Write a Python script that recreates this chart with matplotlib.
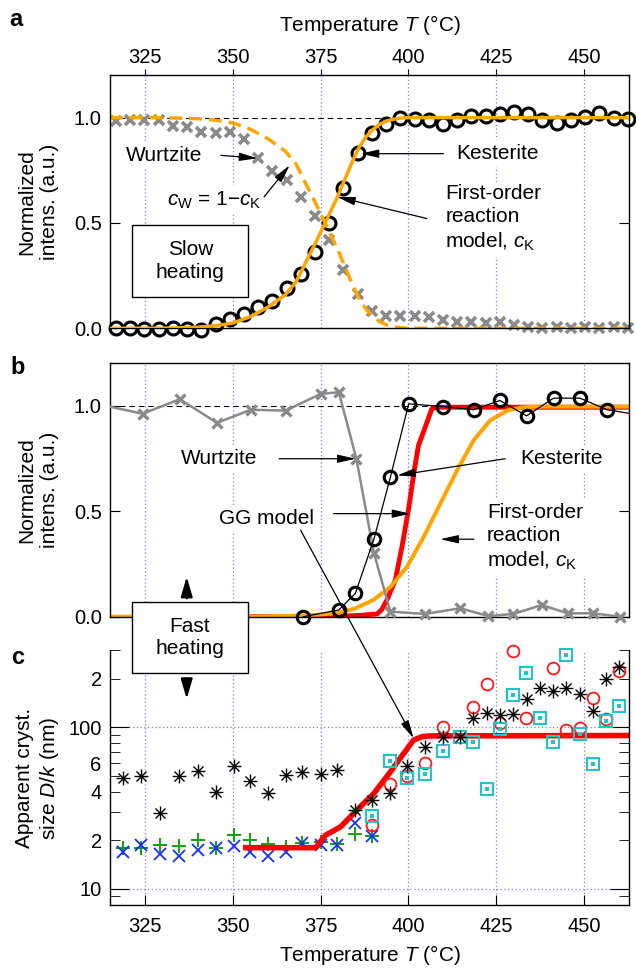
import numpy as np
import matplotlib
matplotlib.use("Agg")
import matplotlib.pyplot as plt
from matplotlib.path import Path
from matplotlib.patches import Rectangle, ArrowStyle, FancyArrowPatch
from matplotlib.ticker import FixedLocator, FixedFormatter

plt.rcParams['font.family'] = ['Liberation Sans', 'DejaVu Sans']
plt.rcParams['mathtext.fontset'] = 'custom'
plt.rcParams['mathtext.rm'] = 'Liberation Sans'
plt.rcParams['mathtext.it'] = 'Liberation Sans:italic'
plt.rcParams['mathtext.bf'] = 'Liberation Sans:bold'

# ---------------- data ----------------
# (a) slow heating
temp_slow = [316.7, 320.8, 324.8, 328.9, 332.9, 337.0, 341.0, 345.1, 349.1, 353.2,
             357.2, 361.3, 365.3, 369.4, 373.4, 377.5, 381.5, 385.6, 389.6, 393.7,
             397.7, 401.8, 405.8, 409.9, 413.9, 418.0, 422.0, 426.1, 430.1, 434.2,
             438.2, 442.3, 446.3, 450.4, 454.4, 458.5, 462.5]
kest_slow = [0.0, 0.0, -0.005, -0.005, 0.0, -0.005, -0.01, 0.02, 0.045, 0.07,
             0.10, 0.13, 0.19, 0.26, 0.36, 0.50, 0.668, 0.83, 0.927, 0.97,
             1.0, 0.995, 0.987, 0.97, 0.99, 1.01, 1.006, 1.016, 1.027, 1.016,
             0.99, 0.975, 0.987, 1.003, 1.02, 1.0, 0.995]
wurtz_slow = [0.985, 0.99, 0.99, 0.988, 0.96, 0.955, 0.93, 0.925, 0.93, 0.90,
              0.81, 0.745, 0.705, 0.625, 0.531, 0.42, 0.276, 0.162, 0.083, 0.057,
              0.06, 0.06, 0.055, 0.04, 0.03, 0.03, 0.027, 0.03, 0.016, 0.005,
              0.0, 0.005, 0.0, 0.005, 0.0, 0.005, 0.0]
model_slow_T = [315, 330, 340, 345, 350, 355, 360, 365, 368, 371, 374, 376, 378, 380,
                382, 384, 386, 388, 390, 392, 394, 396, 398, 400, 463]
model_slow_cK = [0.0, 0.0, 0.005, 0.012, 0.025, 0.055, 0.10, 0.16, 0.22, 0.32, 0.42, 0.49,
                 0.56, 0.63, 0.71, 0.79, 0.86, 0.91, 0.945, 0.97, 0.985, 0.993, 0.998, 1.0, 1.0]

# (b) fast heating
wurtz_fast_T = [313.5, 324.3, 334.9, 345.5, 355.1, 365.1, 375.0, 380.2, 385.2, 390.2,
                394.9, 404.8, 414.8, 422.8, 429.9, 438.0, 445.5, 452.6, 460.4]
wurtz_fast = [1.0, 0.961, 1.03, 0.918, 0.98, 0.976, 1.055, 1.063, 0.748, 0.302,
              0.024, 0.013, 0.04, 0.003, 0.013, 0.055, 0.016, 0.016, 0.0]
kest_fast_T = [370.1, 380.2, 384.9, 390.2, 394.9, 400.1, 410.0, 418.6, 426.1, 433.7,
               441.4, 448.9, 456.6, 466.0]
kest_fast = [0.0, 0.032, 0.11, 0.367, 0.661, 1.008, 0.995, 0.98, 1.024, 0.951,
             1.035, 1.035, 0.98, 0.955]
gg_fast_T = [354, 370, 380, 386, 391.1, 392.5, 393.9, 396.3, 398.2, 400.1, 401.7, 402.9,
             404.8, 406.7, 408.2, 463]
gg_fast = [0.0, 0.0, 0.002, 0.006, 0.013, 0.035, 0.079, 0.173, 0.331, 0.512, 0.693, 0.811,
           0.897, 0.984, 0.992, 0.992]
model_fast_T = [315, 355, 365, 370, 375, 380, 385, 390, 395, 399.6, 404.4, 409.1, 413.9,
                418.6, 423.3, 428.1, 432.0, 436.0, 463]
model_fast_cK = [0.0, 0.0, 0.003, 0.006, 0.01, 0.018, 0.04, 0.079, 0.142, 0.236, 0.378,
                 0.535, 0.693, 0.835, 0.929, 0.976, 0.99, 0.995, 0.995]

# (c) apparent crystallite size (nm)
ast_T = [318.7, 323.9, 329.3, 334.8, 340.2, 345.2, 350.2, 354.9, 360.1, 365.1, 369.8,
         375.0, 379.7, 384.7, 389.7, 394.7, 399.6, 404.8, 409.9, 414.8, 418.4, 422.4,
         426.0, 429.9, 433.7, 437.5, 441.1, 444.9, 448.9, 452.6, 456.4, 460.0]
ast_D = [48.3, 49.9, 29.6, 49.9, 53.8, 39.9, 57.5, 46.7, 39.0, 50.6, 53.0,
         51.4, 54.3, 31.0, 35.5, 39.0, 57.5, 76.0, 87.5, 87.5, 115, 122,
         119, 121, 150, 175, 169, 175, 161, 127, 198, 235]
low_T = [318.7, 323.9, 329.3, 334.8, 340.2, 345.2, 350.2, 354.9, 360.1, 365.1, 369.8,
         375.0, 379.7, 384.7, 389.7]
plus_D = [17.8, 17.8, 18.7, 18.4, 20.0, 17.8, 21.5, 20.0, 18.9, 18.1, 19.3,
          19.5, 18.9, 22.0, 21.2]
cross_D = [16.9, 18.7, 16.4, 16.0, 17.4, 17.8, 18.4, 16.9, 16.0, 16.9, 19.1,
           18.7, 18.7, 25.6, 21.2]
circ_T = [389.7, 394.7, 399.6, 404.8, 409.9, 418.4, 422.4, 426.0, 429.9, 433.5,
          441.1, 444.9, 448.9, 452.6, 456.4, 460.0]
circ_D = [24.8, 44.6, 50.0, 60.4, 100, 133, 185, 107, 298, 115,
          232, 96, 98.6, 151, 112, 224]
sq_T = [389.7, 394.7, 399.6, 404.8, 409.9, 414.8, 418.4, 422.4, 426.0, 429.9,
        433.5, 437.5, 441.1, 444.9, 448.9, 452.6, 456.4, 460.0]
sq_D = [28.2, 62.0, 48.3, 51.2, 71.6, 86.7, 80.7, 41.5, 97.3, 158,
        216, 115, 81.5, 280, 90.8, 59.3, 110, 135]
gg_size_T = [353.7, 373.6, 376.4, 380.7, 385.4, 390.2, 394.9, 398.7, 401.5, 403.9, 406.0, 463]
gg_size = [18.0, 18.0, 21.5, 24.2, 30.8, 39.0, 53.0, 69.0, 83.4, 87.5, 88.5, 89.0]

temp_ticks = [325, 350, 375, 400, 425, 450]

# ---------------- style ----------------
W, H = 636, 969
ORANGE = '#ffa500'
GRAY = '#8a8a8a'
GRID = '#7b7bff'
TICK_FS = 14.5
TXT_FS = 15

def fx(px):
    return px / W

def fy(py):
    return 1 - py / H

fig = plt.figure(figsize=(W / 100, H / 100), dpi=100)
L, R = 110, 629.4
ax_a = fig.add_axes([fx(L), fy(328.3), (R - L) / W, (328.3 - 75.5) / H])
ax_b = fig.add_axes([fx(L), fy(616.7), (R - L) / W, (616.7 - 363.3) / H])
ax_c = fig.add_axes([fx(L), fy(905), (R - L) / W, (905 - 650) / H])

head = ArrowStyle('-|>', head_length=1.1, head_width=0.25)

def arrow(ax, tail, tip, **kw):
    ax.annotate('', xy=tip, xytext=tail,
                arrowprops=dict(arrowstyle=head, mutation_scale=10, lw=0.9,
                                color='black', shrinkA=0, shrinkB=0),
                zorder=6, annotation_clip=False, **kw)

def label(ax, x, y, s, ha='center', va='center', **kw):
    ax.text(x, y, s, ha=ha, va=va, fontsize=TXT_FS, zorder=1.5,
            bbox=dict(fc='white', ec='none', pad=3), **kw)

for ax in (ax_a, ax_b, ax_c):
    ax.set_xlim(315, 463)
    ax.set_xticks(temp_ticks)
    ax.xaxis.grid(True, color=GRID, lw=0.9, linestyle=(0, (1, 2)))
    ax.set_axisbelow(True)
    for s in ax.spines.values():
        s.set_linewidth(1.0)

# ---------- panel a ----------
ax_a.set_ylim(0, 1.2)
ax_a.axhline(1.0, color='black', lw=0.8, dashes=(5, 3.5), zorder=1)
ax_a.plot(temp_slow, wurtz_slow, ls='none', marker='x', ms=7.5, mew=2.6, color=GRAY,
          clip_on=False, zorder=2)
ax_a.plot(temp_slow, kest_slow, ls='none', marker='o', ms=9.3, mew=2.2, mfc='none',
          mec='black', clip_on=False, zorder=2.2)
ax_a.plot(model_slow_T, 1 - np.array(model_slow_cK), color=ORANGE, lw=2.5,
          dashes=(3.7, 2.0), zorder=2.4)
ax_a.plot(model_slow_T, model_slow_cK, color=ORANGE, lw=2.5, zorder=2.6)

ax_a.xaxis.tick_top()
ax_a.xaxis.set_label_position('top')
ax_a.set_xlabel('Temperature $T$ (°C)', fontsize=TXT_FS, labelpad=12)
ax_a.tick_params(axis='x', which='both', top=True, bottom=False, labeltop=True,
                 labelbottom=False, direction='out', length=4, pad=2, labelsize=TICK_FS)
for ax in (ax_a, ax_b):
    ax.set_yticks([0, 0.5, 1.0])
    ax.set_yticklabels(['0.0', '0.5', '1.0'])
    ax.tick_params(axis='y', left=True, right=True, direction='in', length=7,
                   pad=6, labelsize=TICK_FS)

label(ax_a, 330.5, 0.821, 'Wurtzite')
arrow(ax_a, (346.6, 0.821), (357.0, 0.807))
label(ax_a, 344.7, 0.608, r'$c_\mathrm{W}$ = 1−$c_\mathrm{K}$')
arrow(ax_a, (358.9, 0.624), (366.2, 0.774))
label(ax_a, 413.8, 0.829, 'Kesterite', ha='left')
arrow(ax_a, (410.0, 0.829), (386.4, 0.829))
label(ax_a, 410.5, 0.521, 'First-order\nreaction\nmodel, $c_\mathrm{K}$', ha='left',
      linespacing=1.25)
arrow(ax_a, (405.3, 0.521), (379.7, 0.624))

# ---------- panel b ----------
ax_b.set_ylim(0, 1.2)
ax_b.axhline(1.0, color='black', lw=0.8, dashes=(5, 3.5), zorder=1)
ax_b.tick_params(axis='x', which='both', length=0, labelbottom=False, labeltop=False)
ax_b.plot(gg_fast_T, gg_fast, color='red', lw=3.5, zorder=2.2, solid_capstyle='butt')
ax_b.plot(model_fast_T, model_fast_cK, color=ORANGE, lw=2.9, zorder=2.4)
wT = np.array(wurtz_fast_T)
wV = np.array(wurtz_fast)
inw = (wT >= 315) & (wT <= 463)
ax_b.plot(wT, wV, color=GRAY, lw=1.8, zorder=2.6)
ax_b.plot(wT[inw], wV[inw], ls='none', marker='x', ms=7.5, mew=2.4, color=GRAY,
          clip_on=False, zorder=2.6)
kT = np.array(kest_fast_T)
kV = np.array(kest_fast)
ink = (kT >= 315) & (kT <= 463)
ax_b.plot(kT, kV, color='black', lw=0.9, zorder=2.8)
ax_b.plot(kT[ink], kV[ink], ls='none', marker='o', ms=9, mew=2.2, mfc='none',
          mec='black', clip_on=False, zorder=2.9)

label(ax_b, 346.1, 0.748, 'Wurtzite')
arrow(ax_b, (363.2, 0.748), (385.0, 0.748))
label(ax_b, 443.6, 0.748, 'Kesterite')
arrow(ax_b, (427.6, 0.748), (396.8, 0.669))
label(ax_b, 359.6, 0.465, 'GG model')
arrow(ax_b, (378.7, 0.488), (400.6, 0.488))
label(ax_b, 422.4, 0.375, 'First-order\nreaction\nmodel, $c_\mathrm{K}$', ha='left',
      linespacing=1.25)
arrow(ax_b, (418.7, 0.367), (409.1, 0.367))

# ---------- panel c ----------
ax_c.set_yscale('log')
ax_c.set_ylim(7.95, 301)
ax_c.spines['top'].set_visible(False)
ax_c.yaxis.set_major_locator(FixedLocator([10, 100]))
ax_c.yaxis.set_major_formatter(FixedFormatter(['10', '100']))
minor_vals = [9, 20, 30, 40, 50, 60, 70, 80, 90, 200, 300]
minor_labs = ['', '2', '', '4', '', '6', '', '', '', '2', '']
ax_c.yaxis.set_minor_locator(FixedLocator(minor_vals))
ax_c.yaxis.set_minor_formatter(FixedFormatter(minor_labs))
ax_c.tick_params(axis='y', which='major', left=True, right=True, direction='in',
                 length=14, pad=6, labelsize=TICK_FS)
ax_c.tick_params(axis='y', which='minor', left=True, right=True, direction='in',
                 length=7, pad=6, labelsize=TICK_FS)
ax_c.tick_params(axis='x', which='both', bottom=True, top=False, direction='in',
                 length=7, pad=9, labelsize=TICK_FS)
ax_c.yaxis.grid(True, which='major', color=GRID, lw=0.9, linestyle=(0, (1, 2)))
ax_c.set_xlabel('Temperature $T$ (°C)', fontsize=TXT_FS, labelpad=5)

star = Path([(-1, 0), (1, 0), (0, -1), (0, 1), (-0.72, -0.72), (0.72, 0.72),
             (-0.72, 0.72), (0.72, -0.72)],
            [Path.MOVETO, Path.LINETO] * 4)
ax_c.plot(low_T, plus_D, ls='none', marker='+', ms=10, mew=1.4, color='#10a010',
          clip_on=False, zorder=2)
ax_c.plot(low_T, cross_D, ls='none', marker='x', ms=8, mew=1.3, color='#1a2cff',
          clip_on=False, zorder=2)
ax_c.plot(gg_size_T, gg_size, color='red', lw=4.0, zorder=2.5)
ax_c.plot(circ_T, circ_D, ls='none', marker='o', ms=8.5, mew=1.3, mfc='none',
          mec='#ff1a1a', clip_on=False, zorder=3)
ax_c.plot(sq_T, sq_D, ls='none', marker='s', ms=8.5, mew=1.5, mfc='none',
          mec='#22c4c8', clip_on=False, zorder=3)
ax_c.plot(sq_T, sq_D, ls='none', marker='s', ms=2.2, mew=0, color='#22c4c8',
          clip_on=False, zorder=3)
ax_c.plot(ast_T, ast_D, ls='none', marker=star, ms=10, mew=1.0, color='black',
          clip_on=False, zorder=3.2)

# long arrow from GG model label (panel b) to the size model (panel c)
ax_c.annotate('', xy=(401.5, 85.5), xycoords='data',
              xytext=(369.3, 0.41), textcoords=ax_b.transData,
              arrowprops=dict(arrowstyle=head, mutation_scale=10, lw=0.9,
                              color='black', shrinkA=0, shrinkB=0),
              annotation_clip=False, zorder=6)

# ---------- figure-level labels ----------
fig.text(fx(38), fy(202), 'Normalized\nintens. (a.u.)', rotation=90, ha='center',
         va='center', fontsize=TXT_FS, linespacing=1.25)
fig.text(fx(38), fy(490), 'Normalized\nintens. (a.u.)', rotation=90, ha='center',
         va='center', fontsize=TXT_FS, linespacing=1.25)
fig.text(fx(38), fy(778), 'Apparent cryst.\nsize $D$/$k$ (nm)', rotation=90,
         ha='center', va='center', fontsize=TXT_FS, linespacing=1.25)
for s, (px, py) in zip('abc', [(16, 19), (18, 367), (18, 657)]):
    fig.text(fx(px), fy(py), s, ha='center', va='center', fontsize=17,
             fontweight='bold')

# boxes
for (x0, x1, y0, y1, s) in [(132.3, 248.3, 225, 296.7, 'Slow\nheating'),
                            (131.7, 248.3, 601.7, 673.3, 'Fast\nheating')]:
    fig.add_artist(Rectangle((fx(x0), fy(y1)), fx(x1) - fx(x0), fy(y0) - fy(y1),
                             transform=fig.transFigure, fc='white', ec='black',
                             lw=1.0, zorder=5))
    fig.text(fx((x0 + x1) / 2), fy((y0 + y1) / 2), s, ha='center', va='center',
             fontsize=TXT_FS, linespacing=1.25, zorder=6)

bighead = ArrowStyle('-|>', head_length=1.2, head_width=0.35)
for (p0, p1) in [((186.7, 598.3), (186.7, 576.7)), ((186.7, 678.3), (186.7, 699.0))]:
    fig.add_artist(FancyArrowPatch((fx(p0[0]), fy(p0[1])), (fx(p1[0]), fy(p1[1])),
                                   transform=fig.transFigure, arrowstyle=bighead,
                                   mutation_scale=10, lw=1.6, color='black',
                                   shrinkA=0, shrinkB=0, zorder=6))

fig.savefig('out.png', dpi=100)
